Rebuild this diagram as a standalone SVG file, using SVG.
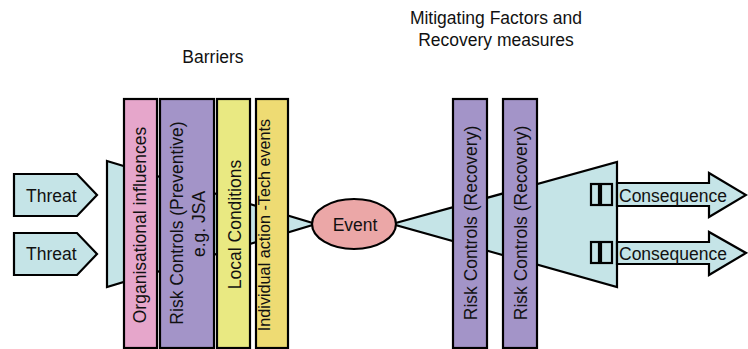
<svg xmlns="http://www.w3.org/2000/svg" width="748" height="349" viewBox="0 0 748 349">
<style>
text{font-family:"Liberation Sans",Arial,sans-serif;font-size:17.5px;fill:#111}
.ln{stroke:#000;stroke-width:2.2;stroke-linejoin:miter}
.cy{fill:#c5e4e7}
.pk{fill:#e6a6cb}
.pu{fill:#a394c8}
.ye{fill:#e9e982}
.go{fill:#eedb73}
.ev{fill:#eba7a7}
.mid{text-anchor:middle}
</style>
<rect width="748" height="349" fill="#fff"/>
<g id="connectors">
<polygon class="ln cy" points="107,161 316,224 107,287"/>
<polygon class="ln cy" points="392,224 617,162 617,287"/>
</g>
<g id="heading-barriers"><text class="mid" x="213" y="63">Barriers</text></g>
<g id="heading-mitigating"><text class="mid" x="496" y="24">Mitigating Factors and</text><text class="mid" x="496" y="46">Recovery measures</text></g>
<g id="threat1"><polygon class="ln cy" points="14,174 77,174 97,195 77,216 14,216"/><text x="26" y="202">Threat</text></g>
<g id="threat2"><polygon class="ln cy" points="14,233 77,233 97,254 77,275 14,275"/><text x="26" y="260">Threat</text></g>
<g id="bar-org"><rect class="ln pk" x="124" y="99" width="33" height="249"/><text class="mid" transform="translate(146,225) rotate(-90)">Organisational influences</text></g>
<g id="bar-risk-prev"><rect class="ln pu" x="160" y="99" width="54" height="249"/><text class="mid" transform="translate(183,223) rotate(-90)">Risk Controls (Preventive)</text><text class="mid" transform="translate(205,224) rotate(-90)">e.g. JSA</text></g>
<g id="bar-local"><rect class="ln ye" x="217" y="99" width="33" height="249"/><text class="mid" transform="translate(240.5,224.5) rotate(-90)">Local Conditions</text></g>
<g id="bar-individual"><rect class="ln go" x="256" y="99" width="32" height="249"/><text class="mid" style="font-size:16.2px" transform="translate(270,225) rotate(-90)">Individual action -Tech events</text></g>
<g id="event"><ellipse class="ln ev" cx="354" cy="224" rx="42" ry="25"/><text class="mid" x="355" y="231">Event</text></g>
<g id="bar-rec1"><rect class="ln pu" x="453" y="99" width="34" height="249"/><text class="mid" transform="translate(477,223) rotate(-90)">Risk Controls (Recovery)</text></g>
<g id="bar-rec2"><rect class="ln pu" x="503" y="99" width="34" height="249"/><text class="mid" transform="translate(527,223) rotate(-90)">Risk Controls (Recovery)</text></g>
<g id="consequence1"><rect class="ln cy" x="591" y="184" width="8" height="21"/><rect class="ln cy" x="601" y="184" width="11" height="21"/><polygon class="ln cy" points="617,183 709,183 709,173 746,195 709,217 709,206 617,206"/><text x="619" y="202">Consequence</text></g>
<g id="consequence2"><rect class="ln cy" x="591" y="242" width="8" height="21"/><rect class="ln cy" x="601" y="242" width="11" height="21"/><polygon class="ln cy" points="617,242 709,242 709,232 746,253 709,275 709,264 617,264"/><text x="619" y="260">Consequence</text></g>
</svg>
